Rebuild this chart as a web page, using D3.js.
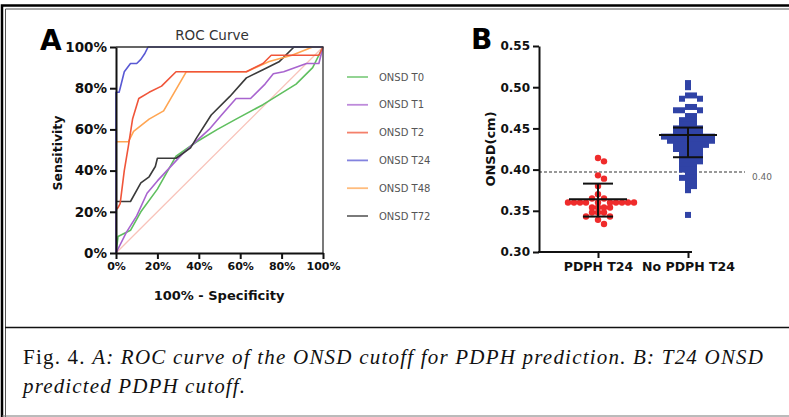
<!DOCTYPE html>
<html>
<head>
<meta charset="utf-8">
<script src="https://cdn.jsdelivr.net/npm/d3@7"></script>
<style>
body{margin:0;background:#fff}
svg{display:block}
text{font-family:"DejaVu Sans",sans-serif}
text.cap{font-family:"Liberation Serif",serif}
</style>
</head>
<body>
<svg id="fig" width="789" height="417"></svg>
<script>
// panel A : ROC curves, [100% - specificity, sensitivity] in %
var rocT0  = [[0,0],[1,8],[7,11],[12,20],[20,31],[29,47],[39,54],[49,60],[58,65],[71,72],[79,77],[87,82],[95,90],[100,100]];
var rocT1  = [[0,0],[5,10],[10,18],[15,29],[20,35],[32,48],[45,60],[51,67],[58,75],[65,75],[72,82],[76,87],[81,88],[92,92],[98,92],[100,100]];
var rocT2  = [[0,0],[0,21],[1,22],[2,24],[4,40],[6,52],[8,65],[11,75],[16,78],[22,81],[29,88],[63,88],[71,92],[75,96],[98,96],[100,100]];
var rocT24 = [[0,0],[0,78],[1.5,78],[2,80],[4,88],[7,92],[10,92],[12,94],[14,97],[15.5,100],[100,100]];
var rocT48 = [[0,0],[0,54],[6,54],[8.5,59],[16,65],[23,69],[34,88],[63,88],[74,93],[85,96],[95,100],[100,100]];
var rocT72 = [[0,0],[0,25],[7,25],[12,34],[16,37],[19,42],[20,46],[29,46],[36,51],[39,56],[46,67],[55,76],[63,85],[71,89],[79,93],[86,100],[100,100]];
var rocNames = ["ONSD T0","ONSD T1","ONSD T2","ONSD T24","ONSD T48","ONSD T72"];
var rocData = [rocT0, rocT1, rocT2, rocT24, rocT48, rocT72];
var rocColors = ["#5fbf5f","#a864cf","#f0553a","#5959d4","#ffa552","#3a3a3a"];
var pctTicks = [0,20,40,60,80,100];

// panel B : ONSD at T24 (cm)
var groups = ["PDPH T24","No PDPH T24"];
var pdph = [0.414,0.410,0.393,0.389,0.380,0.370,0.365,0.365,
  0.360,0.360,0.360,0.360,0.360,0.360,0.360,0.360,0.360,0.360,
  0.354,0.354,0.354,0.354,0.348,0.348,0.348,0.343,0.343,0.339,0.334];
var noPdph = [0.505,0.500,0.490,0.490,0.486,0.486,0.476,0.476,0.472,0.472,0.472,
  0.465,0.465,0.460,0.460,0.460,0.455,0.455,0.455,
  0.450,0.450,0.450,0.450,0.450,0.445,0.445,0.445,0.445,0.445,
  0.440,0.440,0.440,0.440,0.440,0.440,0.440,0.440,0.440,
  0.435,0.435,0.435,0.435,0.435,0.435,0.435,0.435,
  0.430,0.430,0.430,0.430,0.430,0.430,0.425,0.425,0.425,0.425,0.425,
  0.420,0.420,0.420,0.420,0.415,0.415,0.415,0.415,0.410,0.410,0.410,0.410,
  0.405,0.405,0.405,0.400,0.400,0.400,0.395,0.395,0.390,0.390,0.390,
  0.385,0.385,0.380,0.380,0.375,0.345];
var pdphBar = [0.343, 0.364, 0.383];   // lower, centre, upper
var noPdphBar = [0.415, 0.442, 0.451];
var cutoff = 0.397, cutoffLabel = "0.40";
var onsdTicks = [0.30,0.35,0.40,0.45,0.50,0.55];

var svg = d3.select("#fig");

// page frame
svg.append("path").attr("d","M2,417V5.5H789").attr("fill","none").attr("stroke","#000").attr("stroke-width",2.5);
svg.append("path").attr("d","M5.5,417V9H789").attr("fill","none").attr("stroke","#555").attr("stroke-width",1);
svg.append("line").attr("x1",5).attr("x2",789).attr("y1",327.5).attr("y2",327.5).attr("stroke","#111").attr("stroke-width",1.5);
svg.append("line").attr("x1",2).attr("x2",789).attr("y1",416).attr("y2",416).attr("stroke","#777").attr("stroke-width",1);

// ---------- panel A ----------
var xA = d3.scaleLinear().domain([0,100]).range([116,323]);
var yA = d3.scaleLinear().domain([0,100]).range([253,47]);

svg.append("text").attr("x",40).attr("y",50).attr("font-size","28px").attr("font-weight","bold").text("A");
svg.append("text").attr("x",212).attr("y",40).attr("text-anchor","middle").attr("font-size","13.5px").attr("fill","#333").text("ROC Curve");

// diagonal reference
svg.append("line").attr("x1",xA(0)).attr("y1",yA(0)).attr("x2",xA(100)).attr("y2",yA(100))
   .attr("stroke","#f8c3ba").attr("stroke-width",1.3);

var line = d3.line().x(function(d){return xA(d[0]);}).y(function(d){return yA(d[1]);});
// draw order like the picture : grey last
var order = [0,1,5,4,2,3];
order.forEach(function(i){
  svg.append("path").datum(rocData[i]).attr("d",line)
     .attr("fill","none").attr("stroke",rocColors[i]).attr("stroke-width",1.6)
     .attr("stroke-linejoin","round");
});

// box top/right
svg.append("path").attr("d","M"+xA(0)+","+yA(100)+"H"+xA(100)+"V"+yA(0))
   .attr("fill","none").attr("stroke","#333").attr("stroke-width",1.3);

var gyA = svg.append("g").attr("transform","translate("+xA(0)+",0)")
   .call(d3.axisLeft(yA).tickValues(pctTicks).tickFormat(function(d){return d+"%";}).tickSize(6).tickSizeOuter(0).tickPadding(3));
var gxA = svg.append("g").attr("transform","translate(0,"+yA(0)+")")
   .call(d3.axisBottom(xA).tickValues(pctTicks).tickFormat(function(d){return d+"%";}).tickSize(6).tickSizeOuter(0).tickPadding(3));
[gyA,gxA].forEach(function(g){
  g.select(".domain").attr("stroke","#111").attr("stroke-width",2);
  g.selectAll(".tick line").attr("stroke","#111").attr("stroke-width",2);
  g.selectAll("text").attr("font-weight","bold").attr("fill","#111");
});
gyA.selectAll("text").attr("font-size","13.5px");
gxA.selectAll("text").attr("font-size","11px");

svg.append("text").attr("x",219).attr("y",300).attr("text-anchor","middle")
   .attr("font-size","13px").attr("font-weight","bold").attr("fill","#111").text("100% - Specificity");
svg.append("text").attr("transform","translate(62,153) rotate(-90)").attr("text-anchor","middle")
   .attr("font-size","12.5px").attr("font-weight","bold").attr("fill","#111").text("Sensitivity");

// legend
var yLeg = d3.scalePoint().domain(rocNames).range([77,216]);
rocNames.forEach(function(n,i){
  svg.append("line").attr("x1",347).attr("x2",368).attr("y1",yLeg(n)).attr("y2",yLeg(n))
     .attr("stroke",rocColors[i]).attr("stroke-opacity",0.75).attr("stroke-width",1.8);
  svg.append("text").attr("x",379).attr("y",yLeg(n)).attr("dy","0.35em")
     .attr("font-size","10px").attr("fill","#555").text(n);
});

// ---------- panel B ----------
var xB = d3.scalePoint().domain(groups).range([598,688]);
var yB = d3.scaleLinear().domain([0.30,0.55]).range([252,46]);

svg.append("text").attr("x",471).attr("y",49).attr("font-size","28px").attr("font-weight","bold").text("B");

// cut-off line
svg.append("line").attr("x1",539).attr("x2",745).attr("y1",yB(cutoff)).attr("y2",yB(cutoff))
   .attr("stroke","#777").attr("stroke-width",1.6).attr("stroke-dasharray","3,2");
svg.append("text").attr("x",752).attr("y",yB(cutoff)).attr("dy","0.9em")
   .attr("font-size","9px").attr("fill","#666").text(cutoffLabel);

function swarm(vals, cx, step, dyMin){
  var placed = [];
  vals.forEach(function(v){
    var y = yB(v), k = 0, x;
    while(true){
      x = cx + (k===0 ? 0 : (k%2===1 ? 1 : -1)*Math.ceil(k/2)*step);
      var hit = placed.some(function(p){ return Math.abs(p.x-x) < step-0.1 && Math.abs(p.y-y) < dyMin; });
      if(!hit) break;
      k++;
    }
    placed.push({x:x, y:y});
  });
  return placed;
}

var redPts = swarm(pdph, xB(groups[0]), 6, 4.5);
var bluePts = swarm(noPdph, xB(groups[1]), 6, 3.5);

svg.selectAll(".dot").data(redPts).enter().append("circle").attr("class","dot")
   .attr("cx",function(d){return d.x;}).attr("cy",function(d){return d.y;})
   .attr("r",3.2).attr("fill","#ef2b2b");
svg.selectAll(".sq").data(bluePts).enter().append("rect").attr("class","sq")
   .attr("x",function(d){return d.x-3;}).attr("y",function(d){return d.y-3;})
   .attr("width",6).attr("height",6).attr("fill","#3043a6");

function bars(b, cx){
  var g = svg.append("g").attr("stroke","#111").attr("stroke-width",2);
  g.append("line").attr("x1",cx).attr("x2",cx).attr("y1",yB(b[0])).attr("y2",yB(b[2]));
  g.append("line").attr("x1",cx-29).attr("x2",cx+29).attr("y1",yB(b[1])).attr("y2",yB(b[1]));
  [b[0],b[2]].forEach(function(v){
    g.append("line").attr("x1",cx-15).attr("x2",cx+15).attr("y1",yB(v)).attr("y2",yB(v));
  });
}
bars(pdphBar, xB(groups[0]));
bars(noPdphBar, xB(groups[1]));

var gyB = svg.append("g").attr("transform","translate(539,0)")
   .call(d3.axisLeft(yB).tickValues(onsdTicks).tickFormat(d3.format(".2f")).tickSize(6).tickSizeOuter(0).tickPadding(3));
gyB.select(".domain").attr("stroke","#111").attr("stroke-width",2);
gyB.selectAll(".tick line").attr("stroke","#111").attr("stroke-width",2);
gyB.selectAll("text").attr("font-weight","bold").attr("font-size","12px").attr("fill","#111");

var gxB = svg.append("g").attr("transform","translate(0,"+yB(0.30)+")")
   .call(d3.axisBottom(xB).tickSize(6).tickSizeOuter(0).tickPadding(4));
gxB.select(".domain").remove();
svg.append("line").attr("x1",538).attr("x2",692).attr("y1",yB(0.30)).attr("y2",yB(0.30))
   .attr("stroke","#111").attr("stroke-width",2);
gxB.selectAll(".tick line").attr("stroke","#111").attr("stroke-width",2);
gxB.selectAll("text").attr("font-weight","bold").attr("font-size","12.5px").attr("fill","#111");

svg.append("text").attr("transform","translate(495,149) rotate(-90)").attr("text-anchor","middle")
   .attr("font-size","13px").attr("font-weight","bold").attr("fill","#111").text("ONSD(cm)");

// ---------- caption ----------
var cap1 = svg.append("text").attr("class","cap").attr("x",23).attr("y",364)
   .attr("font-size","21px").attr("fill","#111").attr("textLength",740).attr("lengthAdjust","spacing");
cap1.append("tspan").text("Fig. 4. ");
cap1.append("tspan").attr("font-style","italic").text("A: ROC curve of the ONSD cutoff for PDPH prediction. B: T24 ONSD");
svg.append("text").attr("class","cap").attr("x",23).attr("y",393)
   .attr("font-size","21px").attr("font-style","italic").attr("fill","#111")
   .attr("textLength",222).attr("lengthAdjust","spacing").text("predicted PDPH cutoff.");
</script>
</body>
</html>
